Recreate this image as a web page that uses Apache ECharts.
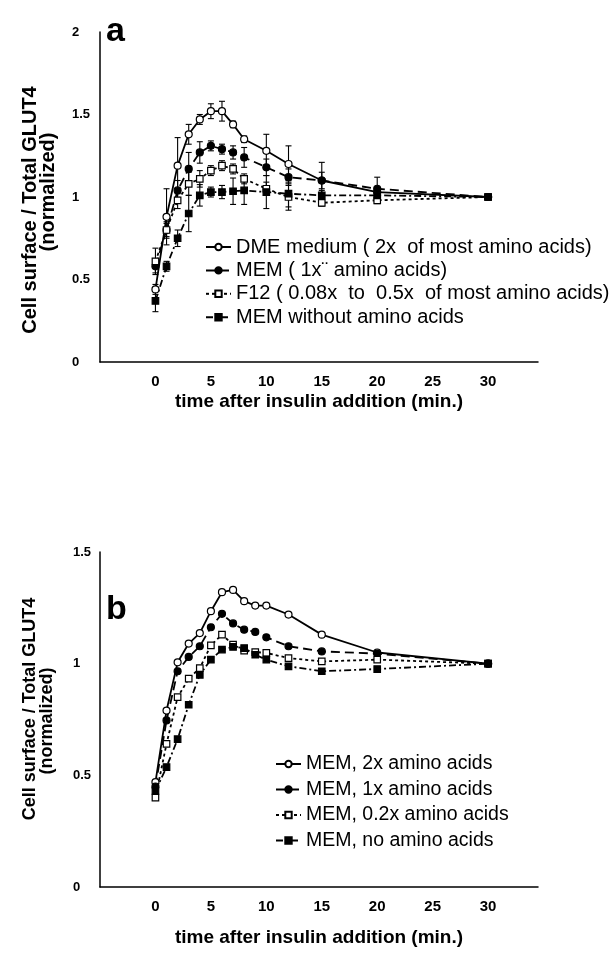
<!DOCTYPE html>
<html>
<head>
<meta charset="utf-8">
<script src="https://cdn.jsdelivr.net/npm/echarts@6/dist/echarts.min.js"></script>
<style>html,body{margin:0;padding:0;background:#fff}#c{width:616px;height:958px}</style>
</head>
<body>
<div id="c"></div>
<script>
// ---------- Panel a data ----------
const timesA = [0, 1, 2, 3, 4, 5, 6, 7, 8, 10, 12, 15, 20, 30];
const dmeA   = [0.44, 0.88, 1.19, 1.38, 1.47, 1.52, 1.52, 1.44, 1.35, 1.28, 1.20, 1.10, 1.03, 1.00];
const memA   = [0.58, 0.80, 1.04, 1.17, 1.27, 1.31, 1.29, 1.27, 1.24, 1.18, 1.12, 1.10, 1.05, 1.00];
const f12A   = [0.61, 0.80, 0.98, 1.08, 1.11, 1.16, 1.19, 1.17, 1.11, 1.05, 1.00, 0.965, 0.98, 1.00];
const noAA_A = [0.37, 0.58, 0.75, 0.90, 1.01, 1.03, 1.03, 1.035, 1.04, 1.03, 1.02, 1.01, 1.01, 1.00];
const errDmeA  = [0.03, 0.17, 0.17, 0.06, 0.03, 0.045, 0.06, 0.02, 0.02, 0.10, 0.11, 0.11, 0.02, 0];
const errMemA  = [0.04, 0.05, 0.06, 0.10, 0.065, 0.03, 0.03, 0.04, 0.06, 0.05, 0.05, 0.05, 0.07, 0];
const errF12A  = [0.08, 0.04, 0.05, 0.07, 0.05, 0.03, 0.03, 0.03, 0.03, 0.04, 0.08, 0.02, 0.02, 0];
const errNoAAA = [0.065, 0.03, 0.05, 0.11, 0.065, 0.03, 0.04, 0.08, 0.085, 0.10, 0.08, 0.03, 0.02, 0];
const namesA = ['DME medium ( 2x  of most amino acids)', 'MEM ( 1x\u00A8 amino acids)',
                'F12 ( 0.08x  to  0.5x  of most amino acids)', 'MEM without amino acids'];

// ---------- Panel b data ----------
const timesB = [0, 1, 2, 3, 4, 5, 6, 7, 8, 9, 10, 12, 15, 20, 30];
const aa2xB  = [0.47, 0.79, 1.006, 1.09, 1.137, 1.235, 1.32, 1.33, 1.28, 1.26, 1.26, 1.22, 1.13, 1.05, 1.00];
const aa1xB  = [0.45, 0.746, 0.966, 1.03, 1.078, 1.163, 1.223, 1.18, 1.152, 1.142, 1.118, 1.078, 1.055, 1.045, 1.00];
const aa02xB = [0.40, 0.641, 0.85, 0.933, 0.98, 1.082, 1.13, 1.085, 1.058, 1.052, 1.048, 1.025, 1.01, 1.018, 1.00];
const aa0xB  = [0.43, 0.537, 0.662, 0.816, 0.95, 1.018, 1.063, 1.075, 1.07, 1.04, 1.018, 0.988, 0.966, 0.976, 1.00];
const namesB = ['MEM, 2x amino acids', 'MEM, 1x amino acids', 'MEM, 0.2x amino acids', 'MEM, no amino acids'];

// ---------- Axis ticks ----------
const xTickLabels = [0, 5, 10, 15, 20, 25, 30];
const yTicksA = [0, 0.5, 1, 1.5, 2];
const yTicksB = [0, 0.5, 1, 1.5];

function pairs(ts, vs) { return ts.map((t, i) => [t, vs[i]]); }
function errs(ts, vs, es) {
  return ts.map((t, i) => [t, vs[i] - es[i], vs[i] + es[i]]).filter(d => d[2] > d[1]);
}

const styles = [
  { symbol: 'circle', size: 7, fill: '#fff', type: 'solid' },
  { symbol: 'circle', size: 7, fill: '#000', type: [9, 5] },
  { symbol: 'rect', size: 6.5, fill: '#fff', type: [3, 3] },
  { symbol: 'rect', size: 6.5, fill: '#000', type: [7, 3, 2, 3] }
];

function lineSeries(name, data, k, idx) {
  const s = styles[k];
  return {
    name: name, type: 'line', xAxisIndex: idx, yAxisIndex: idx, data: data,
    symbol: s.symbol, symbolSize: s.size, showAllSymbol: true, z: 5,
    lineStyle: { color: '#000', width: 1.8, type: s.type },
    itemStyle: { color: s.fill, borderColor: '#000', borderWidth: 1.2 },
    emphasis: { disabled: true }, animation: false
  };
}

function errSeries(data, idx) {
  return {
    type: 'custom', xAxisIndex: idx, yAxisIndex: idx, data: data, z: 3,
    encode: { x: 0, y: [1, 2] }, animation: false, silent: true,
    renderItem: function (params, api) {
      const x = api.value(0);
      const lo = api.coord([x, api.value(1)]);
      const hi = api.coord([x, api.value(2)]);
      const w = 3;
      const st = { stroke: '#000', lineWidth: 1.1 };
      return {
        type: 'group', children: [
          { type: 'line', shape: { x1: lo[0], y1: lo[1], x2: hi[0], y2: hi[1] }, style: st },
          { type: 'line', shape: { x1: lo[0] - w, y1: lo[1], x2: lo[0] + w, y2: lo[1] }, style: st },
          { type: 'line', shape: { x1: hi[0] - w, y1: hi[1], x2: hi[0] + w, y2: hi[1] }, style: st }
        ]
      };
    }
  };
}

const FONT = 'Liberation Sans, Arial, Helvetica, sans-serif';

function xAxisCfg(idx, gap) {
  return {
    type: 'value', gridIndex: idx, min: -5, max: 34.5, interval: 5,
    name: 'time after insulin addition (min.)', nameLocation: 'middle', nameGap: gap,
    nameTextStyle: { fontFamily: FONT, fontWeight: 'bold', fontSize: 19, color: '#000' },
    axisLine: { show: true, onZero: false, lineStyle: { color: '#000', width: 1.5 } },
    axisTick: { show: false }, splitLine: { show: false },
    axisLabel: {
      margin: 12, fontFamily: FONT, fontWeight: 'bold', fontSize: 15, color: '#000',
      showMinLabel: true, showMaxLabel: false,
      formatter: v => (xTickLabels.indexOf(v) >= 0 ? String(v) : '')
    }
  };
}
function yAxisCfg(idx, max, ticks, margin) {
  return {
    type: 'value', gridIndex: idx, min: 0, max: max, interval: 0.5,
    axisLine: { show: true, onZero: false, lineStyle: { color: '#000', width: 1.5 } },
    axisTick: { show: false }, splitLine: { show: false },
    axisLabel: {
      margin: margin, align: 'left', fontFamily: FONT, fontWeight: 'bold', fontSize: 13, color: '#000',
      formatter: v => (ticks.indexOf(v) >= 0 ? String(v) : '')
    }
  };
}

const option = {
  backgroundColor: '#fff',
  animation: false,
  grid: [
    { left: 100, top: 32, width: 438, height: 330 },
    { left: 100, top: 552, width: 438, height: 335 }
  ],
  xAxis: [xAxisCfg(0, 30), xAxisCfg(1, 41)],
  yAxis: [yAxisCfg(0, 2, yTicksA, 28), yAxisCfg(1, 1.5, yTicksB, 27)],
  legend: [
    { data: namesA, orient: 'vertical', left: 205, top: 237, padding: 0, itemWidth: 25, itemHeight: 8,
      itemGap: 3.4, textStyle: { fontFamily: FONT, fontSize: 20, color: '#000', lineHeight: 20 }, selectedMode: false },
    { data: namesB, orient: 'vertical', left: 275, top: 754, padding: 0, itemWidth: 25, itemHeight: 8,
      itemGap: 5.5, textStyle: { fontFamily: FONT, fontSize: 19.5, color: '#000', lineHeight: 20 }, selectedMode: false }
  ],
  graphic: [
    { type: 'text', x: 106, y: 32, style: { text: 'a', font: 'bold 34px ' + FONT, fill: '#000', verticalAlign: 'middle' } },
    { type: 'text', x: 106, y: 610, style: { text: 'b', font: 'bold 34px ' + FONT, fill: '#000', verticalAlign: 'middle' } },
    { type: 'text', x: 30, y: 210, rotation: Math.PI / 2,
      style: { text: 'Cell surface / Total GLUT4', font: 'bold 20px ' + FONT, fill: '#000', align: 'center', verticalAlign: 'middle' } },
    { type: 'text', x: 48, y: 192, rotation: Math.PI / 2,
      style: { text: '(normalized)', font: 'bold 20px ' + FONT, fill: '#000', align: 'center', verticalAlign: 'middle' } },
    { type: 'text', x: 30, y: 709, rotation: Math.PI / 2,
      style: { text: 'Cell surface / Total GLUT4', font: 'bold 18px ' + FONT, fill: '#000', align: 'center', verticalAlign: 'middle' } },
    { type: 'text', x: 47, y: 721, rotation: Math.PI / 2,
      style: { text: '(normalized)', font: 'bold 18px ' + FONT, fill: '#000', align: 'center', verticalAlign: 'middle' } }
  ],
  series: [
    errSeries(errs(timesA, dmeA, errDmeA), 0),
    errSeries(errs(timesA, memA, errMemA), 0),
    errSeries(errs(timesA, f12A, errF12A), 0),
    errSeries(errs(timesA, noAA_A, errNoAAA), 0),
    lineSeries(namesA[0], pairs(timesA, dmeA), 0, 0),
    lineSeries(namesA[1], pairs(timesA, memA), 1, 0),
    lineSeries(namesA[2], pairs(timesA, f12A), 2, 0),
    lineSeries(namesA[3], pairs(timesA, noAA_A), 3, 0),
    lineSeries(namesB[0], pairs(timesB, aa2xB), 0, 1),
    lineSeries(namesB[1], pairs(timesB, aa1xB), 1, 1),
    lineSeries(namesB[2], pairs(timesB, aa02xB), 2, 1),
    lineSeries(namesB[3], pairs(timesB, aa0xB), 3, 1)
  ]
};

const chart = echarts.init(document.getElementById('c'), null, { renderer: 'canvas' });
chart.setOption(option);
</script>
</body>
</html>
